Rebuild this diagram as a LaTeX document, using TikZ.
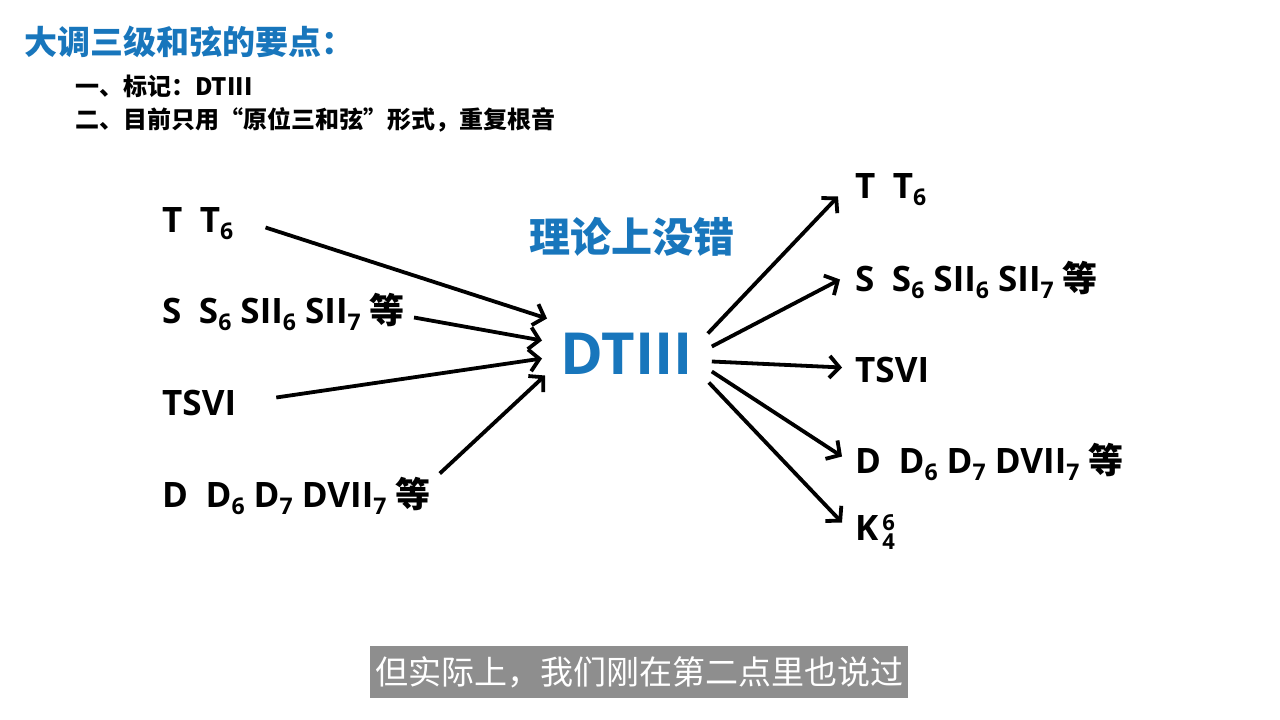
\documentclass[tikz,border=0pt]{standalone}
\usepackage{fontspec}
\setmainfont{Open Sans}
\newfontfamily\cjk{Noto Sans CJK SC}
\usetikzlibrary{arrows.meta}

\definecolor{titleblue}{RGB}{24,118,188}
\definecolor{capgray}{RGB}{142,142,142}

% small indices after a chord letter
\newcommand\dn[1]{\raisebox{-7pt}{\fontsize{23}{23}\selectfont #1}}
\newcommand\updn[2]{\hspace{4pt}\rlap{\raisebox{10pt}{\fontsize{22}{22}\selectfont #1}}\raisebox{-9pt}{\fontsize{22}{22}\selectfont #2}}
\newcommand\etc{{\cjk\bfseries 等}}

\begin{document}
\begin{tikzpicture}[x=1pt,y=-1pt,
    chord/.style={font=\fontsize{35}{35}\selectfont\bfseries, anchor=base west,
        inner sep=0pt, text height=25pt, text depth=0pt},
    arr/.style={line width=3.8pt, -{Straight Barb[length=10pt,width=22pt]}}]
        % 1. Page
        \fill[white] (0,0) rectangle (1280,720);
        \useasboundingbox (0,0) rectangle (1280,720);

        % 2. Heading and points
        \node[anchor=west, inner sep=0pt, text=titleblue,
            font=\cjk\bfseries\fontsize{33}{33}\selectfont] (title) at (24,42) {大调三级和弦的要点：};
        \node[anchor=west, inner sep=0pt,
            font=\cjk\bfseries\fontsize{24}{24}\selectfont] (pt1) at (75,86) {一、标记：DTIII};
        \node[anchor=west, inner sep=0pt,
            font=\cjk\bfseries\fontsize{24}{24}\selectfont] (pt2) at (75,120) {二、目前只用“原位三和弦”形式，重复根音};

        % 3. Centre
        \node[anchor=west, inner sep=0pt, text=titleblue,
            font=\cjk\bfseries\fontsize{41}{41}\selectfont] (ok) at (529,237) {理论上没错};
        \node[anchor=base west, inner sep=0pt, text height=41pt, text depth=0pt, text=titleblue,
            font=\fontsize{58}{58}\selectfont\bfseries] (dt) at (560,374) {DTIII};

        % 4. Chords before DTIII
        \node[chord] (l1) at (162,232) {T\hspace{0.5em}T\dn{6}};
        \node[chord] (l2) at (162,323) {S\hspace{0.5em}S\dn{6} SII\dn{6} SII\dn{7} \etc};
        \node[chord] (l3) at (162,415) {TSVI};
        \node[chord] (l4) at (162,507) {D\hspace{0.5em}D\dn{6} D\dn{7} DVII\dn{7} \etc};

        % 5. Chords after DTIII
        \node[chord] (r1) at (855,198) {T\hspace{0.5em}T\dn{6}};
        \node[chord] (r2) at (855,291) {S\hspace{0.5em}S\dn{6} SII\dn{6} SII\dn{7} \etc};
        \node[chord] (r3) at (855,382) {TSVI};
        \node[chord] (r4) at (855,473) {D\hspace{0.5em}D\dn{6} D\dn{7} DVII\dn{7} \etc};
        \node[chord] (r5) at (855,540) {K\updn{6}{4}};

        % 6. Arrows in
        \draw[arr] ([shift={(32,8)}]l1.east) -- ([shift={(-13,-35)}]dt.west);
        \draw[arr] ([shift={(9,7)}]l2.east) -- ([shift={(-18,-13)}]dt.west);
        \draw[arr] ([shift={(40,-5)}]l3.east) -- ([shift={(-18,5)}]dt.west);
        \draw[arr] ([shift={(9,-21)}]l4.east) -- ([shift={(-15,22)}]dt.west);

        % 7. Arrows out
        \draw[arr] ([shift={(15,-20)}]dt.east) -- ([shift={(-17,11)}]r1.west);
        \draw[arr] ([shift={(19,-7)}]dt.east) -- ([shift={(-15,1)}]r2.west);
        \draw[arr] ([shift={(19,8)}]dt.east) -- ([shift={(-13,-2)}]r3.west);
        \draw[arr] ([shift={(19,18)}]dt.east) -- ([shift={(-13,-4)}]r4.west);
        \draw[arr] ([shift={(16,29)}]dt.east) -- ([shift={(-13,-5)}]r5.west);

        % 8. Caption
        \node[fill=capgray, text=white, inner xsep=5pt, inner ysep=0pt, minimum height=52pt,
            font=\cjk\fontsize{33}{33}\selectfont] (cap) at (639,672) {但实际上，我们刚在第二点里也说过};
    \end{tikzpicture}
\end{document}
